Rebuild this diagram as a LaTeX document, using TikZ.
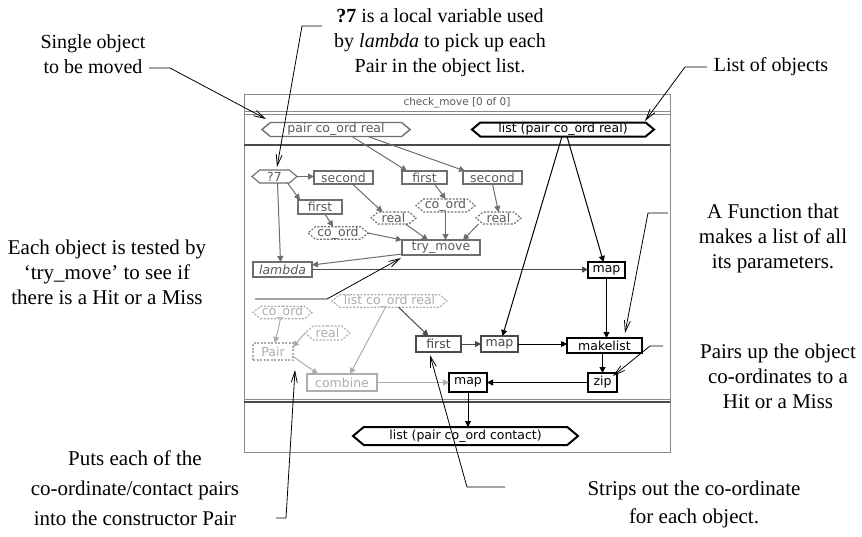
\documentclass[tikz,border=0pt]{standalone}
\usepackage{fontspec}
\newfontfamily\cfont{Liberation Serif}
\newfontfamily\dfont{DejaVu Sans}
\usetikzlibrary{arrows.meta,shapes.symbols,calc}
\definecolor{gA}{HTML}{6E6E6E}
\definecolor{gT}{HTML}{5A5A5A}
\definecolor{gL}{HTML}{ADADAD}
\definecolor{gM}{HTML}{4A4A4A}
\definecolor{fr}{HTML}{8A8A8A}
\begin{document}
\begin{tikzpicture}[x=1pt,y=-1pt,
  dtext/.style={font=\dfont\fontsize{12.5}{14}\selectfont, inner sep=0pt, outer sep=0pt},
  bx/.style={dtext, rectangle, draw, line width=1.1pt},
  hx/.style={dtext, signal, signal to=west and east, signal pointer angle=80, draw, line width=1.1pt},
  gr/.style={draw=gA, text=gT},
  lt/.style={draw=gL, text=gL},
  md/.style={draw=gM, text=gM, line width=1.3pt},
  bk/.style={draw=black, text=black, line width=1.6pt},
  dsh/.style={dash pattern=on 2pt off 1.5pt},
  flow/.style={-{Triangle[length=6pt,width=6pt]}, line width=1pt},
  callout/.style={draw=black, line width=0.8pt, -{Straight Barb[length=11pt,width=6pt,line width=0.8pt]}},
  ctext/.style={font=\cfont\fontsize{21}{25}\selectfont, align=center, inner sep=0pt},
]
\useasboundingbox (0,0) rectangle (862,536);
\fill[white] (0,0) rectangle (862,536);

% window frame
\draw[fr, line width=1pt] (244,94) rectangle (670,452);
\draw[fr, line width=1pt] (244,111) -- (670,111);
\draw[fr, line width=1pt] (244,114) -- (670,114);
\draw[gM, line width=1.6pt] (244,145) -- (670,145);
\draw[fr, line width=1pt] (244,399) -- (670,399);
\draw[gM, line width=1.8pt] (244,402) -- (670,402);
\node[dtext, text=gT, font=\dfont\fontsize{10.5}{12}\selectfont] (title) at (457,103) {check\_move [0 of 0]};

% input / output bars
\node[hx, gr, line width=1.4pt, minimum width=148pt, minimum height=14pt] (pco) at (336,129.5) {pair co\_ord real};
\node[hx, bk, line width=2pt, minimum width=182pt, minimum height=14pt] (lpcr) at (563,129.5) {list (pair co\_ord real)};
\node[hx, bk, line width=2pt, minimum width=225pt, minimum height=18pt] (lpcc) at (465.5,436) {list (pair co\_ord contact)};

% lambda body (gray)
\node[hx, gr, minimum width=45pt, minimum height=13pt] (q7) at (274.5,176.5) {?7};
\node[bx, gr, minimum width=59pt, minimum height=13pt] (sec1) at (343.5,177.5) {second};
\node[bx, gr, minimum width=45pt, minimum height=13pt] (fst1) at (424.5,177.5) {first};
\node[bx, gr, minimum width=59pt, minimum height=13pt] (sec2) at (492.5,177.5) {second};
\node[bx, gr, minimum width=44pt, minimum height=14pt] (fst2) at (320,207) {first};
\node[hx, gr, dsh, minimum width=59pt, minimum height=13pt] (coord1) at (445.5,205.5) {co\_ord};
\node[hx, gr, dsh, minimum width=45pt, minimum height=12pt] (real1) at (393.5,218) {real};
\node[hx, gr, dsh, minimum width=45pt, minimum height=12pt] (real2) at (498.5,218) {real};
\node[hx, gr, dsh, minimum width=60pt, minimum height=12pt] (coord2) at (338,233) {co\_ord};
\node[bx, gr, minimum width=78pt, minimum height=15pt] (try) at (441,247.5) {try\_move};
\node[bx, gr, minimum width=59pt, minimum height=15pt] (lam) at (282.5,269.5) {\itshape lambda};

% lower-left (light)
\node[hx, lt, dsh, minimum width=115pt, minimum height=12pt] (lcr) at (389.5,301) {list co\_ord real};
\node[hx, lt, dsh, minimum width=59pt, minimum height=11pt] (coord3) at (282.5,312.5) {co\_ord};
\node[hx, lt, dsh, minimum width=45pt, minimum height=14pt] (real3) at (327.5,333) {real};
\node[bx, lt, dsh, minimum width=40pt, minimum height=17pt] (pair) at (273,351.5) {Pair};
\node[bx, lt, minimum width=70pt, minimum height=17pt] (comb) at (342,382.5) {combine};

% main flow
\node[bx, md, minimum width=45pt, minimum height=16pt] (fst3) at (438.5,344) {first};
\node[bx, md, minimum width=37pt, minimum height=16pt] (map2) at (499.5,344) {map};
\node[bx, bk, minimum width=37pt, minimum height=16pt] (map1) at (606.5,270) {map};
\node[bx, bk, minimum width=75pt, minimum height=15pt] (mkl) at (604.5,345.5) {makelist};
\node[bx, bk, minimum width=38pt, minimum height=19pt] (map3) at (468,382.5) {map};
\node[bx, bk, minimum width=29pt, minimum height=19pt] (zip) at (602.5,382.5) {zip};

% connectors: lambda body
\begin{scope}[gA]
\draw[flow] ($(pco.south)+(16,0)$) -- ($(fst1.north west)+(5,0)$);
\draw[flow] ($(pco.south)+(32,0)$) -- ($(sec2.north west)+(2,0)$);
\draw[flow] (q7.east) -- (q7.east -| sec1.west);
\draw[flow] ($(q7.south)+(13,0)$) -- ($(fst2.north west)+(2,0)$);
\draw[flow] ($(q7.south)+(3,0)$) -- ($(lam.north)+(-2,0)$);
\draw[flow] ($(sec1.south)+(9,0)$) -- ($(real1.north)+(-11,0)$);
\draw[flow] ($(fst1.south)+(10,0)$) -- (coord1.north);
\draw[flow] (sec2.south) -- (real2.north);
\draw[flow] ($(fst2.south)+(5,0)$) -- ($(coord2.north)+(-5,0)$);
\draw[flow] (coord2.east) -- (try.north west);
\draw[flow] ($(real1.south)+(12,0)$) -- ($(try.north)+(-13,0)$);
\draw[flow] (coord1.south) -- (coord1.south |- try.north);
\draw[flow] ($(real2.south)+(-20,0)$) -- ($(try.north)+(22,0)$);
\draw[flow] ($(try.south west)+(0,-1)$) -- ($(lam.north east)+(0,3)$);
\end{scope}

% connectors: light
\begin{scope}[gL]
\draw[flow] ($(coord3.south)+(-2,0)$) -- ($(pair.north)+(2,0)$);
\draw[flow] (real3.west) -- ($(pair.north east)+(0,4)$);
\draw[flow] ($(pair.east)+(0,5)$) -- ($(comb.north west)+(11,0)$);
\draw[flow] ($(lcr.south)+(-4,0)$) -- ($(comb.north)+(8,0)$);
\draw[flow] (comb.east) -- (map3.west);
\end{scope}
\draw[flow, gM] ($(lcr.south)+(9,0)$) -- ($(fst3.north)+(-10,0)$);

% connectors: main
\draw[flow, gM] (lam.east) -- (lam.east -| map1.west);
\draw[flow] ($(lpcr.south)+(4,0)$) -- ($(map1.north)+(-3,0)$);
\draw[flow] ($(lpcr.south)+(-1,0)$) -- ($(map2.north)+(3,0)$);
\draw[flow] (map1.south) -- (map1.south |- mkl.north);
\draw[flow, gM] (fst3.east) -- (map2.west);
\draw[flow] (map2.east) -- (map2.east -| mkl.west);
\draw[flow] (zip.north |- mkl.south) -- (zip.north);
\draw[flow] (zip.west) -- (map3.east);
\draw[flow] (map3.south) -- (map3.south |- lpcc.north);

% callout texts
\node[ctext, font=\cfont\fontsize{20}{25}\selectfont] (t1) at (93,54.5) {Single object\\to be moved};
\node[ctext, font=\cfont\fontsize{20}{25}\selectfont] (t2) at (440,43) {\textbf{?7} is a local variable used\\by \textit{lambda} to pick up each\\Pair in the object list.};
\node[ctext, font=\cfont\fontsize{20}{25}\selectfont] (t3) at (771,67) {List of objects};
\node[ctext] (t4) at (773,238) {A Function that\\makes a list of all\\its parameters.};
\node[ctext] (t5) at (778,376) {Pairs up the object\\co-ordinates to a\\Hit or a Miss};
\node[ctext] (t6) at (107,272) {Each object is tested by\\‘try\_move’ to see if\\there is a Hit or a Miss};
\node[ctext, font=\cfont\fontsize{21}{30}\selectfont] (t7) at (135,488.5) {Puts each of the\\co-ordinate/contact pairs\\into the constructor Pair};
\node[ctext, font=\cfont\fontsize{21}{28}\selectfont] (t8) at (694,504) {Strips out the co-ordinate\\for each object.};

% callout lines
\coordinate (c1a) at (149,68); \coordinate (c1b) at (170,68); \coordinate (c1c) at (266,119);
\draw[callout] (c1a) -- (c1b) -- (c1c);
\coordinate (c2a) at (322,26); \coordinate (c2b) at (302,26); \coordinate (c2c) at (277,167);
\draw[callout] (c2a) -- (c2b) -- (c2c);
\coordinate (c3a) at (707,67); \coordinate (c3b) at (685,67); \coordinate (c3c) at (645,121);
\draw[callout] (c3a) -- (c3b) -- (c3c);
\coordinate (c4a) at (668,213); \coordinate (c4b) at (648,213); \coordinate (c4c) at (625,333);
\draw[callout] (c4a) -- (c4b) -- (c4c);
\coordinate (c5a) at (663,346); \coordinate (c5b) at (650,346); \coordinate (c5c) at (613,376);
\draw[callout] (c5a) -- (c5b) -- (c5c);
\coordinate (c6a) at (255,299); \coordinate (c6b) at (327,299); \coordinate (c6c) at (401,258);
\draw[callout] (c6a) -- (c6b) -- (c6c);
\coordinate (c7a) at (276,518); \coordinate (c7b) at (286,518); \coordinate (c7c) at (295,370);
\draw[callout] (c7a) -- (c7b) -- (c7c);
\coordinate (c8a) at (505,487); \coordinate (c8b) at (467,487); \coordinate (c8c) at (430,355);
\draw[callout] (c8a) -- (c8b) -- (c8c);
\end{tikzpicture}
\end{document}
